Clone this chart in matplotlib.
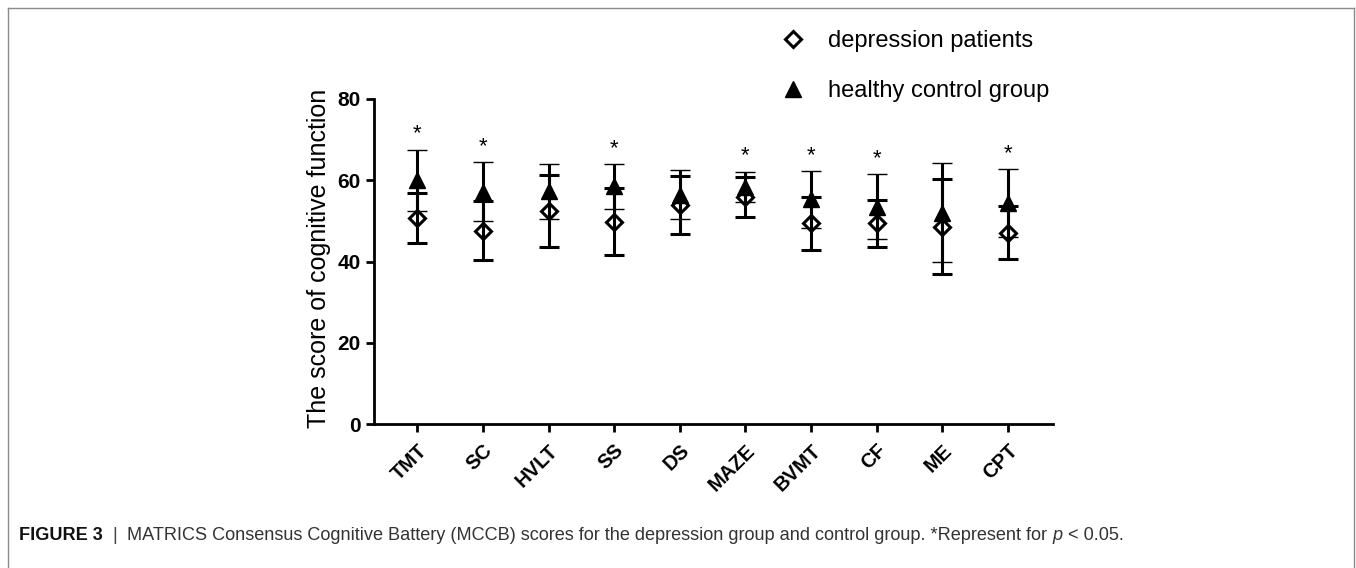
import matplotlib
matplotlib.use('Agg')
import matplotlib.pyplot as plt
from matplotlib.lines import Line2D
from matplotlib import font_manager
import numpy as np

# ---------------- data ----------------
categories = ['TMT', 'SC', 'HVLT', 'SS', 'DS', 'MAZE', 'BVMT', 'CF', 'ME', 'CPT']
depression_mean = [50.8, 47.6, 52.5, 49.8, 53.9, 56.0, 49.4, 49.4, 48.6, 47.1]
depression_sd = [6.1, 7.2, 8.9, 8.2, 7.2, 4.9, 6.5, 5.7, 11.7, 6.5]
healthy_mean = [60.0, 57.2, 57.3, 58.5, 56.5, 58.4, 55.3, 53.5, 52.0, 54.4]
healthy_sd = [7.5, 7.3, 6.7, 5.5, 6.1, 3.7, 7.0, 8.0, 12.2, 8.3]
significant = [True, True, False, True, False, True, True, True, False, True]
y_ticks = [0, 20, 40, 60, 80]
legend_labels = ['depression patients', 'healthy control group']
y_label = 'The score of cognitive function'
caption_parts = [
    ('FIGURE 3', 'bold', 'normal', '#111111'),
    ('  |  ', 'normal', 'normal', '#444444'),
    ('MATRICS Consensus Cognitive Battery (MCCB) scores for the depression group and control group. *Represent for ',
     'normal', 'normal', '#333333'),
    ('p', 'normal', 'italic', '#333333'),
    (' < 0.05.', 'normal', 'normal', '#333333'),
]

plt.rcParams['font.family'] = ['Liberation Sans', 'DejaVu Sans']

W, H = 1356, 568
fig = plt.figure(figsize=(W / 100, H / 100), dpi=100)
ax_left, ax_right, ax_top, ax_bottom = 374, 1053, 99, 424.3
ax = fig.add_axes([ax_left / W, 1 - ax_bottom / H, (ax_right - ax_left) / W, (ax_bottom - ax_top) / H])

x = np.arange(len(categories))
ax.errorbar(x, depression_mean, yerr=depression_sd, fmt='D', ms=8.5, mfc='none', mec='black', mew=2.2,
            ecolor='black', elinewidth=2.2, capsize=7.5, capthick=2.4, zorder=3)
ax.errorbar(x, healthy_mean, yerr=healthy_sd, fmt='^', ms=12, mfc='black', mec='black', mew=1,
            ecolor='black', elinewidth=2.2, capsize=7.5, capthick=2.4, zorder=4)

for i, sig in enumerate(significant):
    if sig:
        top = max(healthy_mean[i] + healthy_sd[i], depression_mean[i] + depression_sd[i])
        ax.text(x[i], top + 2.5, '*', ha='center', va='baseline', fontsize=16, color='black')

ax.set_xlim(-0.66, 9.69)
ax.set_ylim(0, 80)
ax.set_yticks(y_ticks)
ax.set_yticklabels([str(v) for v in y_ticks], fontweight='bold', fontsize=15)
ax.set_xticks(x)
ax.set_xticklabels(categories, rotation=45, ha='right', va='top', rotation_mode='anchor',
                   fontweight='bold', fontsize=14.5)
for s in ['top', 'right']:
    ax.spines[s].set_visible(False)
for s in ['left', 'bottom']:
    ax.spines[s].set_linewidth(2)
ax.tick_params(axis='both', direction='out', length=6, width=2, pad=3.5, colors='black')
ax.tick_params(axis='x', pad=6)
ax.set_ylabel(y_label, fontsize=18)
ax.yaxis.set_label_coords(-0.0633, 0.51)

handles = [
    Line2D([], [], marker='D', ls='none', mfc='none', mec='black', mew=2.2, ms=8.5),
    Line2D([], [], marker='^', ls='none', mfc='black', mec='black', mew=1, ms=12),
]
fig.legend(handles, legend_labels, loc='upper left', bbox_to_anchor=(781.5 / W, 1 - 30 / H),
           frameon=False, fontsize=17, handlelength=1.0, handletextpad=0.98, labelspacing=1.2,
           borderpad=0, borderaxespad=0)

# figure border (top, left, right)
bc = '#8a8a8a'
fig.add_artist(Line2D([8 / W, 1354 / W], [1 - 8 / H, 1 - 8 / H], color=bc, lw=1.0))
fig.add_artist(Line2D([8 / W, 8 / W], [0, 1 - 8 / H], color=bc, lw=1.0))
fig.add_artist(Line2D([1354 / W, 1354 / W], [0, 1 - 8 / H], color=bc, lw=1.0))

# caption
names = {f.name for f in font_manager.fontManager.ttflist}
cap_family = ['Liberation Sans Narrow', 'DejaVu Sans'] if 'Liberation Sans Narrow' in names else ['Liberation Sans', 'DejaVu Sans']
fig.canvas.draw()
renderer = fig.canvas.get_renderer()
cap_x0, cap_x1, cap_y = 19, 1127, 535


def place_caption(size):
    xx = cap_x0
    arts = []
    for s, w, st, col in caption_parts:
        t = fig.text(xx / W, 1 - cap_y / H, s, fontsize=size, fontweight=w, fontstyle=st, color=col,
                     ha='left', va='center', family=cap_family)
        bb = t.get_window_extent(renderer)
        xx += bb.width
        arts.append(t)
    return arts, xx


arts, xend = place_caption(12)
scale = (cap_x1 - cap_x0) / (xend - cap_x0)
for a in arts:
    a.remove()
place_caption(12 * scale)

fig.savefig('out.png', dpi=100)
